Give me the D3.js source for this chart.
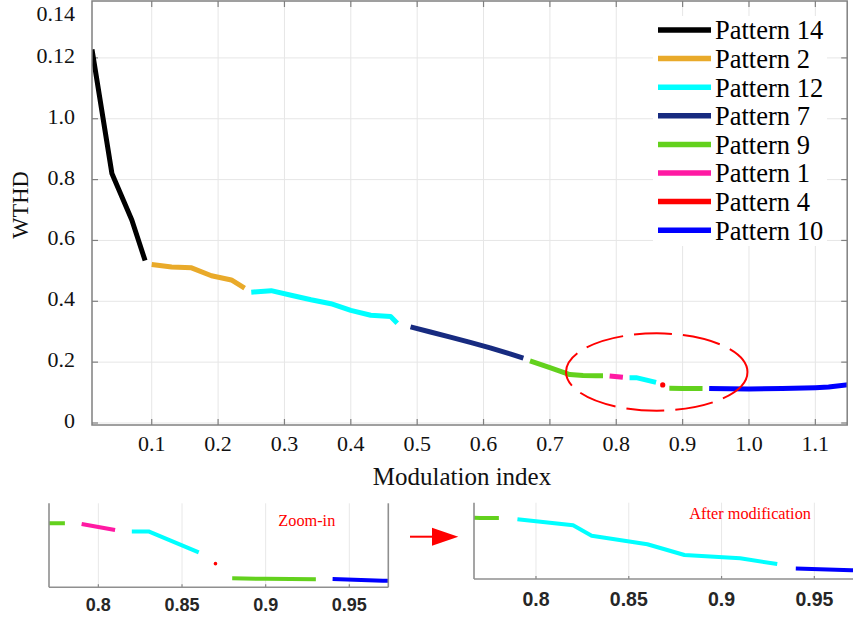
<!DOCTYPE html>
<html>
<head>
<meta charset="utf-8">
<script src="https://cdn.jsdelivr.net/npm/d3@7"></script>
<style>
  html, body { margin: 0; padding: 0; background: #fff; }
  svg { display: block; }
  .serif { font-family: "Liberation Serif", "Times New Roman", Times, serif; }
  .sans { font-family: "Liberation Sans", Arial, Helvetica, sans-serif; font-weight: bold; }
</style>
</head>
<body>
<svg id="chart" width="853" height="622"></svg>
<script>
// ---- Data: modulation index (M) and WTHD (W) per switching-pattern segment ----
const p14M = [0.01, 0.04, 0.07, 0.09];
const p14W = [1.228, 0.820, 0.667, 0.534];
const p2M = [0.10, 0.13, 0.16, 0.19, 0.22, 0.24];
const p2W = [0.521, 0.513, 0.510, 0.484, 0.470, 0.443];
const p12aM = [0.25, 0.28, 0.31, 0.34, 0.37, 0.40, 0.43, 0.46, 0.47];
const p12aW = [0.430, 0.435, 0.420, 0.405, 0.392, 0.370, 0.354, 0.350, 0.328];
const p7M = [0.49, 0.52, 0.55, 0.58, 0.61, 0.64, 0.66];
const p7W = [0.316, 0.299, 0.282, 0.265, 0.247, 0.227, 0.213];
const p9aM = [0.67, 0.70, 0.73, 0.75, 0.77, 0.78];
const p9aW = [0.204, 0.182, 0.159, 0.156, 0.155, 0.155];
const p1M = [0.79, 0.81];
const p1W = [0.1545, 0.150];
const p12bM = [0.82, 0.83, 0.86];
const p12bW = [0.149, 0.149, 0.1334];
const p4M = [0.87];
const p4W = [0.125];
const p9bM = [0.88, 0.90, 0.93];
const p9bW = [0.1141, 0.1137, 0.1134];
const p10M = [0.94, 0.97, 1.00, 1.05, 1.10, 1.12, 1.15];
const p10W = [0.1136, 0.1123, 0.112, 0.113, 0.116, 0.118, 0.126];

// Pattern 12 after modification (replaces patterns 1, 12, 4, 9 between 0.79 and 0.93)
const modM = [0.79, 0.82, 0.83, 0.86, 0.88, 0.91, 0.93];
const modW = [0.1539, 0.149, 0.1405, 0.1335, 0.1247, 0.122, 0.1173];

// Legend
const patternNames = ["Pattern 14", "Pattern 2", "Pattern 12", "Pattern 7",
                      "Pattern 9", "Pattern 1", "Pattern 4", "Pattern 10"];
const patternColors = ["#000000", "#e9aa2a", "#00ffff", "#172b80",
                       "#63d11d", "#ff1aa3", "#ff0000", "#0000ff"];

// Axis ticks
const xTicks = [0.1, 0.2, 0.3, 0.4, 0.5, 0.6, 0.7, 0.8, 0.9, 1.0, 1.1];
const xTickLabels = ["0.1", "0.2", "0.3", "0.4", "0.5", "0.6", "0.7", "0.8", "0.9", "1.0", "1.1"];
const yTicks = [0, 0.2, 0.4, 0.6, 0.8, 1.0, 1.2, 1.4];
const yTickLabels = ["0", "0.2", "0.4", "0.6", "0.8", "1.0", "0.12", "0.14"];
const zoomTicks = [0.8, 0.85, 0.9, 0.95];
const zoomTickLabels = ["0.8", "0.85", "0.9", "0.95"];

// Highlighted region (centre and half-axes, data units)
const markCenter = [0.861, 0.1676];
const markRadii = [0.1367, 0.127];

// ---- Build segment list ----
const pack = (m, w) => m.map((v, i) => ({ m: v, w: w[i] }));
const segments = [
  { pts: pack(p14M, p14W), c: 0 },
  { pts: pack(p2M, p2W), c: 1 },
  { pts: pack(p12aM, p12aW), c: 2 },
  { pts: pack(p7M, p7W), c: 3 },
  { pts: pack(p9aM, p9aW), c: 4 },
  { pts: pack(p1M, p1W), c: 5 },
  { pts: pack(p12bM, p12bW), c: 2 },
  { pts: pack(p4M, p4W), c: 6 },
  { pts: pack(p9bM, p9bW), c: 4 },
  { pts: pack(p10M, p10W), c: 7 }
];
const modSegments = [
  { pts: pack(p9aM, p9aW), c: 4 },
  { pts: pack(modM, modW), c: 2 },
  { pts: pack(p10M, p10W), c: 7 }
];

const svg = d3.select("#chart");
const axisGray = "#808080";
const gridGray = "#e6e6e6";

function drawSegments(g, segs, xs, ys, lw, dotR) {
  const line = d3.line().x(d => xs(d.m)).y(d => ys(d.w));
  segs.forEach(s => {
    if (s.pts.length > 1) {
      g.append("path").attr("d", line(s.pts))
        .attr("fill", "none").attr("stroke", patternColors[s.c])
        .attr("stroke-width", lw).attr("stroke-linejoin", "round");
    } else {
      g.append("circle").attr("cx", xs(s.pts[0].m)).attr("cy", ys(s.pts[0].w))
        .attr("r", dotR).attr("fill", patternColors[s.c]);
    }
  });
}

// ================= Main chart =================
const x = d3.scaleLinear().domain([0.01, 1.148]).range([92, 847.2]);
const y = d3.scaleLinear().domain([-0.0066, 1.387]).range([425, 1]);
const [X0, X1] = x.range();
const [Y0, Y1] = y.range();

const main = svg.append("g");
main.append("clipPath").attr("id", "mainClip")
  .append("rect").attr("x", X0).attr("y", Y1).attr("width", X1 - X0).attr("height", Y0 - Y1);

// grid
main.append("g").selectAll("line").data(xTicks).join("line")
  .attr("x1", d => x(d)).attr("x2", d => x(d)).attr("y1", Y1).attr("y2", Y0)
  .attr("stroke", gridGray).attr("stroke-width", 1);
main.append("g").selectAll("line").data(yTicks.filter(d => y(d) > Y1)).join("line")
  .attr("x1", X0).attr("x2", X1).attr("y1", d => y(d)).attr("y2", d => y(d))
  .attr("stroke", gridGray).attr("stroke-width", 1);

// tick marks on all four sides (inward)
const tl = 6;
const tickG = main.append("g").attr("stroke", axisGray).attr("stroke-width", 1.2);
xTicks.forEach(d => {
  tickG.append("line").attr("x1", x(d)).attr("x2", x(d)).attr("y1", Y0).attr("y2", Y0 - tl);
  tickG.append("line").attr("x1", x(d)).attr("x2", x(d)).attr("y1", Y1).attr("y2", Y1 + tl);
});
yTicks.filter(d => y(d) > Y1).forEach(d => {
  tickG.append("line").attr("x1", X0).attr("x2", X0 + tl).attr("y1", y(d)).attr("y2", y(d));
  tickG.append("line").attr("x1", X1).attr("x2", X1 - tl).attr("y1", y(d)).attr("y2", y(d));
});

// legend backdrop (drawn before data so it hides grid only)
main.append("rect").attr("x", 653).attr("y", 16).attr("width", 174).attr("height", 230)
  .attr("fill", "#fff");

// data
const dataG = main.append("g").attr("clip-path", "url(#mainClip)");
drawSegments(dataG, segments, x, y, 5, 2.6);

// box
main.append("rect").attr("x", X0).attr("y", Y1).attr("width", X1 - X0).attr("height", Y0 - Y1)
  .attr("fill", "none").attr("stroke", axisGray).attr("stroke-width", 1.5);

// tick labels (the topmost label is held inside the figure)
main.append("g").selectAll("text").data(xTicks).join("text")
  .attr("class", "serif")
  .attr("x", d => x(d)).attr("y", 450.7)
  .attr("text-anchor", "middle").attr("font-size", 22)
  .attr("fill", "#111").text((d, i) => xTickLabels[i]);
main.append("g").selectAll("text").data(yTicks).join("text")
  .attr("class", "serif")
  .attr("x", 75).attr("y", d => Math.max(y(d) + 5, 20.5))
  .attr("text-anchor", "end").attr("font-size", 22)
  .attr("fill", "#111").text((d, i) => yTickLabels[i]);

// axis titles
main.append("text").attr("class", "serif").attr("x", 462).attr("y", 485).attr("text-anchor", "middle")
  .attr("font-size", 25).attr("fill", "#111").text("Modulation index");
main.append("text").attr("class", "serif").attr("transform", "translate(28,205) rotate(-90)")
  .attr("text-anchor", "middle").attr("font-size", 22.5).attr("fill", "#111").text("WTHD");

// highlight ellipse
const ecx = x(markCenter[0]), ecy = y(markCenter[1]);
main.append("ellipse").attr("cx", ecx).attr("cy", ecy)
  .attr("rx", x(markCenter[0] + markRadii[0]) - ecx)
  .attr("ry", ecy - y(markCenter[1] + markRadii[1]))
  .attr("fill", "none").attr("stroke", "#ff0000").attr("stroke-width", 2)
  .attr("stroke-dasharray", "38 11");

// legend
const leg = main.append("g");
patternNames.forEach((name, i) => {
  const ly = 30 + i * 28.6;
  leg.append("line").attr("x1", 658).attr("x2", 711).attr("y1", ly).attr("y2", ly)
    .attr("stroke", patternColors[i]).attr("stroke-width", 5.5);
  leg.append("text").attr("class", "serif").attr("x", 715).attr("y", ly + 9.3)
    .attr("font-size", 26.5).attr("fill", "#000").text(name);
});

// ================= Zoom panels =================
function drawPanel(cfg) {
  const xs = d3.scaleLinear().domain(cfg.xd).range(cfg.xr);
  const ys = d3.scaleLinear().domain(cfg.yd).range(cfg.yr);
  const [a, b] = xs.range(), [bot, top] = ys.range();
  const g = svg.append("g");
  const id = cfg.id;
  g.append("clipPath").attr("id", id)
    .append("rect").attr("x", a).attr("y", top).attr("width", b - a).attr("height", bot - top);
  g.selectAll(".grid").data(zoomTicks).join("line")
    .attr("x1", d => xs(d)).attr("x2", d => xs(d)).attr("y1", top).attr("y2", bot)
    .attr("stroke", "#e8e8e8").attr("stroke-width", 1);
  g.selectAll(".tk").data(zoomTicks).join("line")
    .attr("x1", d => xs(d)).attr("x2", d => xs(d)).attr("y1", bot).attr("y2", bot - 3)
    .attr("stroke", "#888").attr("stroke-width", 1.2);
  const dg = g.append("g").attr("clip-path", `url(#${id})`);
  drawSegments(dg, cfg.segs, xs, ys, 4, 1.8);
  g.append("line").attr("x1", a).attr("x2", a).attr("y1", top).attr("y2", bot)
    .attr("stroke", "#8f8f8f").attr("stroke-width", 1.6);
  g.append("line").attr("x1", a).attr("x2", b).attr("y1", bot).attr("y2", bot)
    .attr("stroke", "#8f8f8f").attr("stroke-width", 1.6);
  if (cfg.rightBorder) {
    g.append("line").attr("x1", b).attr("x2", b).attr("y1", top).attr("y2", bot)
      .attr("stroke", "#8f8f8f").attr("stroke-width", 1.6);
  }
  g.selectAll(".lbl").data(zoomTicks).join("text")
    .attr("class", "sans")
    .attr("x", d => xs(d)).attr("y", cfg.labelY)
    .attr("text-anchor", "middle")
    .attr("font-size", cfg.fs).attr("fill", "#262626").text((d, i) => zoomTickLabels[i]);
  g.append("text").attr("class", "serif").attr("x", cfg.title[0]).attr("y", cfg.title[1])
    .attr("font-size", 16.3).attr("fill", "#ff0000").text(cfg.title[2]);
}

drawPanel({
  id: "zoomClipA", xd: [0.7705, 0.9733], xr: [49, 388.3],
  yd: [0.1074, 0.1699], yr: [587.3, 503.3], segs: segments, rightBorder: true,
  labelY: 611, fs: 18, title: [278.3, 526, "Zoom-in"]
});
drawPanel({
  id: "zoomClipB", xd: [0.7666, 0.9733], xr: [474, 857.6],
  yd: [0.1051, 0.1675], yr: [579, 502.7], segs: modSegments, rightBorder: true,
  labelY: 606, fs: 19.5, title: [689.3, 519, "After modification"]
});

// arrow between panels
const arrow = svg.append("g");
arrow.append("line").attr("x1", 410).attr("x2", 434).attr("y1", 536.7).attr("y2", 536.7)
  .attr("stroke", "#ff0000").attr("stroke-width", 2);
arrow.append("path").attr("d", "M432,527.7 L458.3,536.7 L432,545.7 Z").attr("fill", "#ff0000");
</script>
</body>
</html>
